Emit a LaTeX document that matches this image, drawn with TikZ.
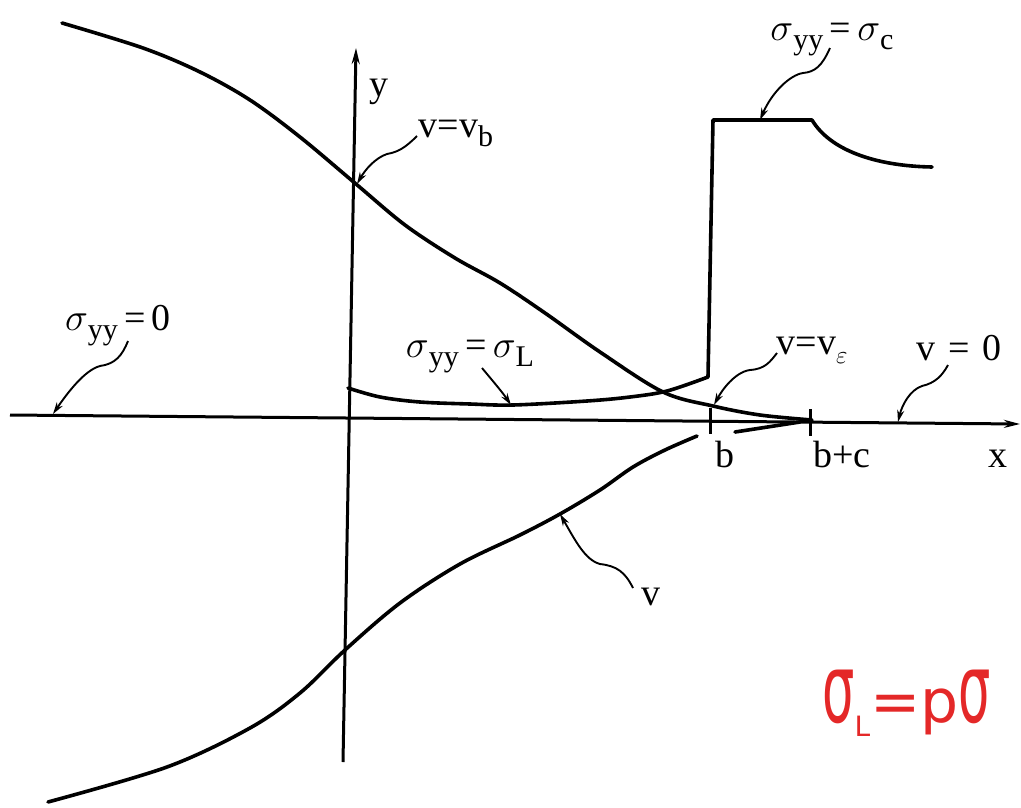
\documentclass[tikz,border=0pt]{standalone}
\usepackage{fontspec}
\usepackage{graphicx}
\setmainfont{Liberation Serif}
\newfontfamily\redfont{DejaVu Sans}
\usetikzlibrary{arrows.meta}
\newcommand{\bigsig}{\scalebox{1.55}{$\sigma$}}
\newcommand{\subsc}[1]{\raisebox{-9pt}{\fontsize{30}{30}\selectfont #1}}
\tikzset{
  curve/.style={line width=3.6pt, line join=round, line cap=round},
  axis/.style={line width=3pt},
  leader/.style={line width=1.9pt, -{Stealth[length=12pt,width=7pt]}},
  lbl/.style={anchor=base, inner sep=0pt, font=\fontsize{38}{42}\selectfont},
}
\begin{document}
\begin{tikzpicture}[x=1pt,y=-1pt]
\useasboundingbox (0,0) rectangle (1021,807);
% axes
\coordinate (xs) at (10,415);
\coordinate (xe) at (1020,424);
\coordinate (ys) at (343,762);
\coordinate (ye) at (356,48);
\draw[axis,-{Stealth[length=16pt,width=8pt]}] (xs) -- (xe);
\draw[axis,-{Stealth[length=16pt,width=8pt]}] (ys) -- (ye);
% ticks
\coordinate (tb1) at (710,408); \coordinate (tb2) at (710,434);
\coordinate (tc1) at (810,409); \coordinate (tc2) at (810,436);
\draw[axis] (tb1) -- (tb2);
\draw[axis] (tc1) -- (tc2);
% upper v curve
\draw[curve] plot[smooth,tension=0.55] coordinates {(62,23) (143,48) (200,72) (250,100) (300,137) (356,184) (405,225) (455,258) (500,283) (545,313) (600,352) (663,392) (713,406) (760,415) (812,420)};
% lower v curve
\draw[curve] plot[smooth,tension=0.55] coordinates {(48,802) (167,767) (250,728) (300,693) (345,650) (400,603) (460,564) (520,535) (560,514) (600,490) (633,467) (665,450) (697,436)};
\coordinate (lc1) at (735,432); \coordinate (lc2) at (800,422);
\draw[curve] (lc1) -- (lc2);
% stress curve
\draw[curve] plot[smooth,tension=0.55] coordinates {(348,388) (380,397) (420,402) (470,404) (513,405) (587,401) (630,397) (667,391) (708,377)} -- (713,120) -- (812,120) .. controls (830,150) and (875,166) .. (932,167);
% target points
\coordinate (t_sc) at (760,120);
\coordinate (t_vb) at (357,184);
\coordinate (t_s0) at (53,414);
\coordinate (t_sL) at (511,405);
\coordinate (t_ve) at (714,405);
\coordinate (t_v0) at (898,422);
\coordinate (t_v) at (560,514);
% labels
\node[lbl] (sc) at (832,40) {\bigsig\subsc{yy}\,=\,\bigsig\subsc{c}};
\node[lbl] (ylab) at (379,96) {y};
\node[lbl] (vb) at (456,137) {v=v\subsc{b}};
\node[lbl] (s0) at (118,330) {\bigsig\subsc{yy}\,=\,0};
\node[lbl] (sL) at (470,357) {\bigsig\subsc{yy}\,=\,\bigsig\subsc{L}};
\node[lbl] (ve) at (812,354) {v=v\subsc{$\varepsilon$}};
\node[lbl] (v0) at (959,360) {v\,\,=\,\,0};
\node[lbl] (lb) at (725,467) {b};
\node[lbl] (lbc) at (842,467) {b+c};
\node[lbl] (lx) at (998,467) {x};
\node[lbl] (lv) at (651,605) {v};
% leaders
\coordinate (s_sc) at (830,48);
\coordinate (s_vb) at (417,136);
\coordinate (s_s0) at (128,341);
\coordinate (s_sL) at (482,368);
\coordinate (s_ve) at (777,353);
\coordinate (s_v0) at (948,365);
\coordinate (s_v) at (633,588);
\draw[leader] (s_sc) .. controls (822,66) and (815,72) .. (803,73) .. controls (790,75) and (772,92) .. (t_sc);
\draw[leader] (s_vb) .. controls (405,148) and (398,152) .. (387,154) .. controls (375,158) and (365,170) .. (t_vb);
\draw[leader] (s_s0) .. controls (122,356) and (115,364) .. (100,366) .. controls (85,370) and (68,392) .. (t_s0);
\draw[leader] (s_sL) .. controls (492,380) and (503,393) .. (t_sL);
\draw[leader] (s_ve) .. controls (770,362) and (765,369) .. (750,370) .. controls (735,372) and (722,390) .. (t_ve);
\draw[leader] (s_v0) .. controls (942,376) and (935,383) .. (922,386) .. controls (910,390) and (902,405) .. (t_v0);
\draw[leader] (s_v) .. controls (625,572) and (617,566) .. (600,564) .. controls (585,560) and (575,540) .. (t_v);
% red handwritten note
\node[anchor=base west, inner sep=0pt, text={rgb,255:red,228;green,40;blue,40}, font=\redfont\fontsize{60}{60}\selectfont] (note) at (822,722) {\scalebox{0.85}[1.6]{σ}\raisebox{-14pt}{\fontsize{28}{28}\selectfont L}=p\scalebox{0.85}[1.6]{σ}};
\end{tikzpicture}
\end{document}
